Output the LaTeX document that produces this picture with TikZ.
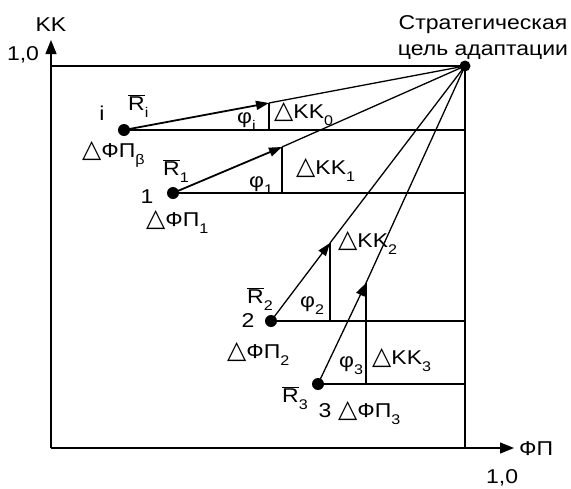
\documentclass[tikz,border=0pt]{standalone}
\usepackage{fontspec}
\setmainfont{Liberation Sans}[FakeStretch=1.15]
\newfontfamily\symfont{DejaVu Sans}
\usetikzlibrary{arrows.meta}
\newcommand{\tri}{{\symfont\fontsize{25}{25}\selectfont △}}
\newcommand{\sub}[1]{\raisebox{-7pt}{\fontsize{14}{14}\selectfont #1}}
\newcommand{\Rb}{$\overline{\mbox{R}}$}
\begin{document}
\begin{tikzpicture}[x=1pt,y=-1pt,
  lbl/.style={inner sep=0pt,anchor=base west,font=\fontsize{20}{26}\selectfont},
  lblc/.style={inner sep=0pt,anchor=base,font=\fontsize{20}{26}\selectfont},
  ln/.style={line width=1.3pt},
  vec/.style={line width=1.8pt,-{Triangle[length=13pt,width=9pt]}},
  dotc/.style={circle,fill=black,inner sep=0pt,minimum size=12pt}]
\useasboundingbox (0,0) rectangle (571,488);
% points
\coordinate (O) at (51,448);
\coordinate (T) at (465,66);
\coordinate (Pi) at (124,130);
\coordinate (P1) at (173,193);
\coordinate (P2) at (271,321);
\coordinate (P3) at (318,384);
\coordinate (Ai) at (269,103);
\coordinate (A1) at (282,147);
\coordinate (A2) at (330,243);
\coordinate (A3) at (366,283);
\coordinate (Yt) at (51,40);
\coordinate (Xt) at (514,448);
\coordinate (TL) at (51,66);
\coordinate (BR) at (465,448);
% axes
\draw[ln,-{Triangle[length=14pt,width=11pt]}] (O) -- (Yt);
\draw[ln,-{Triangle[length=14pt,width=11pt]}] (O) -- (Xt);
\draw[ln] (TL) -- (T) -- (BR);
% horizontals
\draw[ln] (Pi) -- (Pi -| T);
\draw[ln] (P1) -- (P1 -| T);
\draw[ln] (P2) -- (P2 -| T);
\draw[ln] (P3) -- (P3 -| T);
% verticals
\draw[ln] (Ai) -- (Ai |- Pi);
\draw[ln] (A1) -- (A1 |- P1);
\draw[ln] (A2) -- (A2 |- P2);
\draw[ln] (A3) -- (A3 |- P3);
% lines to target
\draw[ln] (Ai) -- (T);
\draw[ln] (A1) -- (T);
\draw[ln] (A2) -- (T);
\draw[ln] (A3) -- (T);
% vectors
\draw[vec] (Pi) -- (Ai);
\draw[vec] (P1) -- (A1);
\draw[line width=1.3pt,-{Triangle[length=13pt,width=9pt]}] (P2) -- (A2);
\draw[line width=1.3pt,-{Triangle[length=13pt,width=9pt]}] (P3) -- (A3);
% dots
\node[dotc] (Di) at (Pi) {};
\node[dotc] (D1) at (P1) {};
\node[dotc] (D2) at (P2) {};
\node[dotc] (D3) at (P3) {};
\node[dotc,minimum size=11pt] (DT) at (T) {};
% labels
\node[lblc] (kk) at (51,31) {KK};
\node[lblc] (y10) at (23,60) {1,0};
\node[lbl] (fp) at (519,455) {ФП};
\node[lbl] (x10) at (486,483) {1,0};
\node[lblc] (goal1) at (483,29) {Стратегическая};
\node[lblc] (goal2) at (483,55) {цель адаптации};
\node[lblc] (li) at (102,120) {i};
\node[lbl] (Ri) at (128,110) {\Rb\sub{i}};
\node[lbl] (fpb) at (82,157) {\tri ФП\sub{β}};
\node[lbl] (phii) at (237,123) {φ\sub{i}};
\node[lbl] (kk0) at (274,118) {\tri KK\sub{0}};
\node[lbl] (R1) at (163,175) {\Rb\sub{1}};
\node[lblc] (l1) at (147,203) {1};
\node[lbl] (fp1) at (146,226) {\tri ФП\sub{1}};
\node[lbl] (phi1) at (249,187) {φ\sub{1}};
\node[lbl] (kk1) at (296,174) {\tri KK\sub{1}};
\node[lbl] (kk2) at (338,247) {\tri KK\sub{2}};
\node[lbl] (phi2) at (300,307) {φ\sub{2}};
\node[lbl] (R2) at (247,303) {\Rb\sub{2}};
\node[lblc] (l2) at (248,327) {2};
\node[lbl] (fp2) at (227,358) {\tri ФП\sub{2}};
\node[lbl] (phi3) at (339,367) {φ\sub{3}};
\node[lbl] (kk3) at (372,364) {\tri KK\sub{3}};
\node[lbl] (R3) at (282,402) {\Rb\sub{3}};
\node[lblc] (l3) at (325,417) {3};
\node[lbl] (fp3) at (338,417) {\tri ФП\sub{3}};
\end{tikzpicture}
\end{document}
